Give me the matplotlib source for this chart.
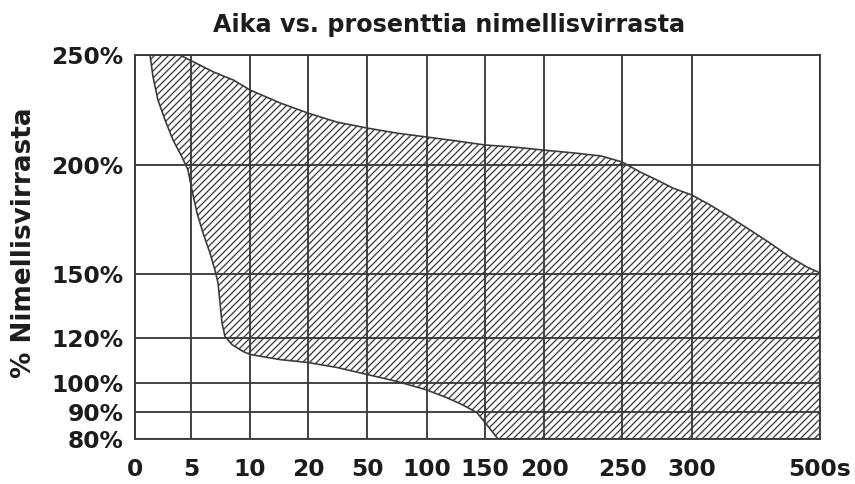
import numpy as np
import matplotlib
matplotlib.use("Agg")
import matplotlib.pyplot as plt

# ---- data ----
x_ticks = [0, 5, 10, 20, 50, 100, 150, 200, 250, 300, 500]
x_labels = ["0", "5", "10", "20", "50", "100", "150", "200", "250", "300", "500s"]
y_ticks = [80, 90, 100, 120, 150, 200, 250]
y_labels = ["80%", "90%", "100%", "120%", "150%", "200%", "250%"]

# upper / right boundary of the hatched band (time s, % of rated current)
upper_t = [4.0, 4.9, 6.9, 8.6, 10, 15.2, 20, 34.7, 50, 75, 100, 125.9, 150, 173.7,
           199.2, 219, 236.5, 250, 262.9, 275, 286.4, 300, 328, 359.4, 390.6,
           421.9, 453, 479.7, 500]
upper_v = [250, 247.7, 242.3, 238.6, 234.1, 228.2, 223.6, 219.5, 216.8, 214.5,
           212.7, 210.9, 209.1, 208.2, 206.8, 205.5, 204.1, 201.4, 196.8, 193.1,
           189.4, 186.2, 181.7, 176.1, 170.2, 164.2, 157.8, 153.2, 150.5]

# lower / left boundary of the hatched band
lower_t = [1.34, 1.61, 2.05, 2.68, 3.39, 4.2, 4.73, 5.08, 5.51, 6.02, 6.61, 7.03,
           7.29, 7.46, 7.63, 7.88, 8.47, 9.41, 10, 15.2, 20, 34.7, 50, 75, 98.3,
           116.7, 130, 143, 150, 156.8, 161]
lower_v = [250, 240, 229.5, 220.5, 211.4, 203.6, 197.7, 188.5, 178, 168.8, 159.6,
           151.8, 145.8, 136.4, 127.0, 120.7, 117.1, 114, 112.7, 110.4, 109.1, 106.9,
           103.8, 100.7, 97.8, 95, 92.6, 89.8, 86.1, 82.4, 80]

title = "Aika vs. prosenttia nimellisvirrasta"
ylabel = "% Nimellisvirrasta"

# ---- layout (pixel positions of grid lines on the uneven axes) ----
x_pos = [0, 56, 115, 173, 232, 292, 350, 409, 487, 557, 685]
y_pos = [0, 27, 56, 101, 165, 274, 384]

DPI = 84
W, H = 855, 484
INK = "#1c1c1c"
LINE = "#3a3a3a"

plt.rcParams["hatch.linewidth"] = 1.1
plt.rcParams["font.family"] = ["DejaVu Sans"]

fig = plt.figure(figsize=(W / DPI, H / DPI), dpi=DPI)
fig.patch.set_facecolor("white")
ax = fig.add_axes([135 / W, 45 / H, 685 / W, 384 / H])


def make_scale(vals, pos):
    vals = np.asarray(vals, float)
    pos = np.asarray(pos, float)

    def fwd(v):
        return np.interp(np.asarray(v, float), vals, pos)

    def inv(p):
        return np.interp(np.asarray(p, float), pos, vals)

    return fwd, inv


ax.set_xscale("function", functions=make_scale(x_ticks, x_pos))
ax.set_yscale("function", functions=make_scale(y_ticks, y_pos))
ax.set_xlim(0, 500)
ax.set_ylim(80, 250)

region_t = upper_t + [500] + lower_t[::-1]
region_v = upper_v + [80] + lower_v[::-1]
ax.fill(region_t, region_v, facecolor="none", edgecolor=LINE, hatch="////",
        linewidth=1.4, zorder=3)

ax.set_xticks(x_ticks, x_labels)
ax.set_yticks(y_ticks, y_labels)
ax.minorticks_off()
ax.grid(True, color=LINE, linewidth=1.6)
ax.set_axisbelow(True)
for s in ax.spines.values():
    s.set_color(LINE)
    s.set_linewidth(1.6)

ax.tick_params(axis="both", length=0, labelsize=20, labelcolor=INK)
ax.tick_params(axis="x", pad=16)
ax.tick_params(axis="y", pad=10)
for lab in ax.get_xticklabels() + ax.get_yticklabels():
    lab.set_fontweight("bold")

ax.set_ylabel(ylabel, fontsize=22.5, fontweight="bold", color=INK)
ax.yaxis.set_label_coords(-0.143, 0.512)

fig.text(449 / W, 1 - 32 / H, title, ha="center", va="baseline",
         fontsize=20.5, fontweight="bold", color=INK)

fig.savefig("out.png", dpi=DPI, facecolor="white")
